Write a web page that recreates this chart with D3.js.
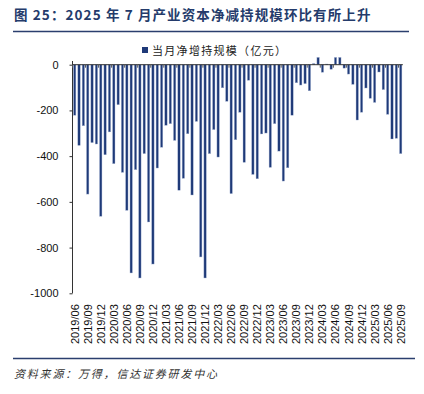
<!DOCTYPE html>
<html>
<head>
<meta charset="utf-8">
<script src="https://cdn.jsdelivr.net/npm/d3@7"></script>
<style>
  body { margin: 0; background: #fff; }
  svg { display: block; }
</style>
</head>
<body>
<script>
'use strict';

// monthly categories 2019/06 .. 2025/09
const months = [
  "2019/06","2019/07","2019/08","2019/09","2019/10","2019/11","2019/12",
  "2020/01","2020/02","2020/03","2020/04","2020/05","2020/06","2020/07","2020/08","2020/09","2020/10","2020/11","2020/12",
  "2021/01","2021/02","2021/03","2021/04","2021/05","2021/06","2021/07","2021/08","2021/09","2021/10","2021/11","2021/12",
  "2022/01","2022/02","2022/03","2022/04","2022/05","2022/06","2022/07","2022/08","2022/09","2022/10","2022/11","2022/12",
  "2023/01","2023/02","2023/03","2023/04","2023/05","2023/06","2023/07","2023/08","2023/09","2023/10","2023/11","2023/12",
  "2024/01","2024/02","2024/03","2024/04","2024/05","2024/06","2024/07","2024/08","2024/09","2024/10","2024/11","2024/12",
  "2025/01","2025/02","2025/03","2025/04","2025/05","2025/06","2025/07","2025/08","2025/09"
];

// 当月净增持规模（亿元）
const netIncrease = [
  -221, -353, -267, -566, -341, -347, -663,
  -394, -294, -433, -175, -471, -637, -911, -459, -933, -389, -688, -872,
  -452, -361, -265, -258, -331, -549, -497, -302, -570, -248, -841, -933,
  -389, -284, -404, -101, -160, -564, -328, -208, -427, -68, -480, -499,
  -303, -299, -449, -258, -378, -509, -451, -221, -79, -89, -83, -114,
  5, 32, -33, 3, -20, 32, 32, -15, -41, -86, -242, -208,
  -102, -147, -165, -32, -109, -217, -325, -322, -389
];

const xTickLabels = [
  "2019/06","2019/09","2019/12","2020/03","2020/06","2020/09","2020/12",
  "2021/03","2021/06","2021/09","2021/12","2022/03","2022/06","2022/09","2022/12",
  "2023/03","2023/06","2023/09","2023/12","2024/03","2024/06","2024/09","2024/12",
  "2025/03","2025/06","2025/09"
];
const yTicks = [0, -200, -400, -600, -800, -1000];

const titleText = "图 25：2025 年 7 月产业资本净减持规模环比有所上升";
const legendText = "当月净增持规模（亿元）";
const sourceText = "资料来源：万得，信达证券研发中心";

const navy = "#1f3a78";
const cjk = "'Noto Sans CJK SC', sans-serif";
const latin = "'Liberation Sans', Arial, sans-serif";

const svg = d3.select("body").append("svg")
  .attr("width", 424)
  .attr("height", 394);

// title and rules
svg.append("text")
  .attr("x", 14)
  .attr("y", 20)
  .style("font-family", cjk)
  .style("font-size", "13.5px")
  .style("font-weight", "bold")
  .style("letter-spacing", "1.1px")
  .style("fill", "#243b6b")
  .text(titleText);

svg.append("line")
  .attr("x1", 13).attr("x2", 409)
  .attr("y1", 31.5).attr("y2", 31.5)
  .style("stroke", "#2b3f6e")
  .style("stroke-width", 1.5);

svg.append("line")
  .attr("x1", 13).attr("x2", 415)
  .attr("y1", 358.5).attr("y2", 358.5)
  .style("stroke", "#2b3f6e")
  .style("stroke-width", 1.5);

svg.append("text")
  .attr("x", 14)
  .attr("y", 378)
  .style("font-family", cjk)
  .style("font-size", "11px")
  .style("font-style", "italic")
  .style("letter-spacing", "1.8px")
  .style("fill", "#333")
  .text(sourceText);

// legend
svg.append("rect")
  .attr("x", 142).attr("y", 47)
  .attr("width", 6).attr("height", 6)
  .style("fill", navy);

svg.append("text")
  .attr("x", 152)
  .attr("y", 54.5)
  .style("font-family", cjk)
  .style("font-size", "11px")
  .style("letter-spacing", "1.3px")
  .style("fill", "#222")
  .text(legendText);

// scales
const step = 4.347;
const xScale = d3.scaleBand()
  .domain(months)
  .range([72.5, 72.5 + step * months.length])
  .paddingInner(0.45)
  .paddingOuter(0.225);

const yScale = d3.scaleLinear()
  .domain([-1000, 0])
  .range([293.3, 64.7]);

// y axis
const yAxis = d3.axisLeft(yScale)
  .tickValues(yTicks)
  .tickSize(3)
  .tickFormat(d => d === 0 ? "0" : "-" + Math.abs(d));

const gy = svg.append("g")
  .attr("transform", "translate(72.5,0)")
  .call(yAxis);
gy.select(".domain").attr("d", "M0,61V293.3").style("stroke", "#333");
gy.selectAll(".tick line").style("stroke", "#333");
gy.selectAll(".tick text")
  .attr("x", -14)
  .style("font-family", latin)
  .style("font-size", "11px")
  .style("fill", "#111");

// bars
svg.selectAll(".bar")
  .data(netIncrease)
  .enter()
  .append("rect")
  .attr("class", "bar")
  .attr("x", (d, i) => xScale(months[i]))
  .attr("y", d => yScale(Math.max(d, 0)))
  .attr("width", xScale.bandwidth())
  .attr("height", d => Math.abs(yScale(d) - yScale(0)))
  .style("fill", navy)
  .style("stroke", "#a9b7d6")
  .style("stroke-width", 0.4);

// zero line with small category ticks
const xAxis = d3.axisBottom(xScale)
  .tickValues(xTickLabels)
  .tickSize(3)
  .tickFormat("");

const gx = svg.append("g")
  .attr("transform", "translate(0," + yScale(0) + ")")
  .call(xAxis);
gx.select(".domain")
  .attr("d", "M72.5,0H" + (72.5 + step * months.length))
  .style("stroke", "#333");
gx.selectAll(".tick line")
  .attr("transform", "translate(" + (-step / 2) + ",0)")
  .style("stroke", "#555");

// x labels at the bottom, rotated
svg.selectAll(".xlab")
  .data(xTickLabels)
  .enter()
  .append("text")
  .attr("class", "xlab")
  .attr("transform", d => "translate(" + (xScale(d) + xScale.bandwidth() / 2 + 4) + ",344)rotate(-90)")
  .style("font-family", latin)
  .style("font-size", "11px")
  .style("fill", "#111")
  .text(d => d);
</script>
</body>
</html>
